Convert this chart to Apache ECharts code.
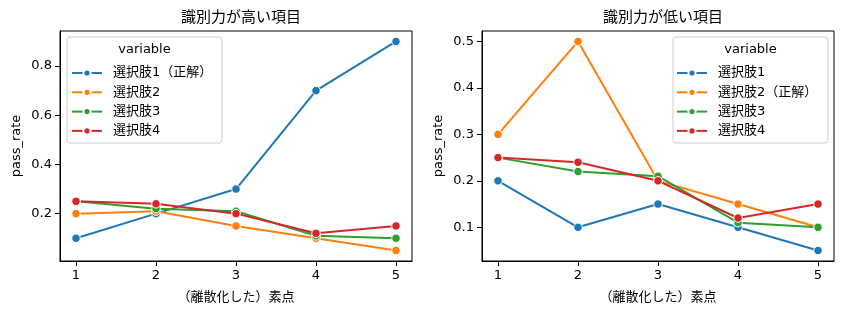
<!DOCTYPE html>
<html>
<head>
<meta charset="utf-8">
<script src="https://cdn.jsdelivr.net/npm/echarts@6/dist/echarts.min.js"></script>
<style>
  html, body { margin: 0; padding: 0; background: #fff; }
  #chart { width: 844px; height: 313px; }
</style>
</head>
<body>
<div id="chart"></div>
<script>
var scores = [1, 2, 3, 4, 5];
var colors = ['#1f77b4', '#ff7f0e', '#2ca02c', '#d62728'];

var highTitle = '識別力が高い項目';
var highNames = ['選択肢1（正解）', '選択肢2', '選択肢3', '選択肢4'];
var highRates = [
    [0.10, 0.20, 0.30, 0.70, 0.90],
    [0.20, 0.21, 0.15, 0.10, 0.05],
    [0.25, 0.22, 0.21, 0.11, 0.10],
    [0.25, 0.24, 0.20, 0.12, 0.15]
];
var highTicks = [0.2, 0.4, 0.6, 0.8];

var lowTitle = '識別力が低い項目';
var lowNames = ['選択肢1', '選択肢2（正解）', '選択肢3', '選択肢4'];
var lowRates = [
    [0.20, 0.10, 0.15, 0.10, 0.05],
    [0.30, 0.50, 0.20, 0.15, 0.10],
    [0.25, 0.22, 0.21, 0.11, 0.10],
    [0.25, 0.24, 0.20, 0.12, 0.15]
];
var lowTicks = [0.1, 0.2, 0.3, 0.4, 0.5];

var font = "'DejaVu Sans', 'Noto Sans CJK JP', sans-serif";
var chart = echarts.init(document.getElementById('chart'));

// matplotlib style 5% margins around the data
function range(rows) {
    var all = [].concat.apply([], rows);
    var lo = Math.min.apply(null, all), hi = Math.max.apply(null, all);
    var m = (hi - lo) * 0.05;
    return [lo - m, hi + m];
}

function xAxis(idx) {
    return {
        type: 'value', gridIndex: idx, min: 0.8, max: 5.2,
        name: '（離散化した）素点', nameLocation: 'middle', nameGap: 30,
        nameTextStyle: { color: '#000', fontSize: 13, fontFamily: font },
        axisLine: { show: true, lineStyle: { color: '#000', width: 1 } },
        axisTick: { show: true, length: 5, inside: false, customValues: scores, lineStyle: { color: '#000' } },
        axisLabel: { color: '#000', fontSize: 13, fontFamily: font, margin: 8, customValues: scores },
        splitLine: { show: false }
    };
}

function yAxis(idx, rows, ticks) {
    var r = range(rows);
    return {
        type: 'value', gridIndex: idx, min: r[0], max: r[1],
        name: 'pass_rate', nameLocation: 'middle', nameGap: 37,
        nameTextStyle: { color: '#000', fontSize: 13, fontFamily: font },
        axisLine: { show: true, lineStyle: { color: '#000', width: 1 } },
        axisTick: { show: true, length: 5, customValues: ticks, lineStyle: { color: '#000' } },
        axisLabel: {
            color: '#000', fontSize: 13, fontFamily: font, margin: 8, customValues: ticks,
            formatter: function (v) { return v.toFixed(1); }
        },
        splitLine: { show: false }
    };
}

function makeSeries(names, rows, idx) {
    return names.map(function (n, i) {
        return {
            name: n, type: 'line', xAxisIndex: idx, yAxisIndex: idx,
            data: scores.map(function (x, j) { return [x, rows[i][j]]; }),
            symbol: 'circle', symbolSize: 8.5, showSymbol: true,
            lineStyle: { color: colors[i], width: 2 },
            itemStyle: { color: colors[i], borderColor: '#fff', borderWidth: 1 },
            emphasis: { disabled: true },
            animation: false
        };
    });
}

function legend(names, left) {
    return {
        data: names, orient: 'vertical', left: left, top: 61,
        itemWidth: 30, itemHeight: 9, itemGap: 5.3, selectedMode: false,
        textStyle: { color: '#000', fontSize: 13, fontFamily: font, lineHeight: 14, padding: [0, 0, 0, 6] }
    };
}

function legendBox(x, w) {
    return [
        { type: 'rect', z: 0, shape: { x: x, y: 37, width: w, height: 106, r: 3 },
          style: { fill: 'rgba(255,255,255,0.8)', stroke: '#ccc', lineWidth: 1 } },
        { type: 'text', z: 1, x: x + w / 2, y: 50,
          style: { text: 'variable', fill: '#000', fontSize: 13, fontFamily: font, align: 'center', verticalAlign: 'middle' } }
    ];
}

chart.setOption({
    animation: false,
    color: colors,
    title: [
        { text: highTitle, left: 236, top: 6, textAlign: 'center', textStyle: { fontSize: 15, fontWeight: 'normal', color: '#000', fontFamily: font } },
        { text: lowTitle, left: 658, top: 6, textAlign: 'center', textStyle: { fontSize: 15, fontWeight: 'normal', color: '#000', fontFamily: font } }
    ],
    grid: [
        { left: 60, right: 432, top: 31, bottom: 52, show: true, borderColor: '#000', borderWidth: 1, backgroundColor: 'transparent' },
        { left: 482, right: 10, top: 31, bottom: 52, show: true, borderColor: '#000', borderWidth: 1, backgroundColor: 'transparent' }
    ],
    xAxis: [xAxis(0), xAxis(1)],
    yAxis: [yAxis(0, highRates, highTicks), yAxis(1, lowRates, lowTicks)],
    legend: [legend(highNames, 66), legend(lowNames, 671)],
    graphic: legendBox(67, 155).concat(legendBox(673, 155)),
    series: makeSeries(highNames, highRates, 0).concat(makeSeries(lowNames, lowRates, 1))
});
</script>
</body>
</html>
